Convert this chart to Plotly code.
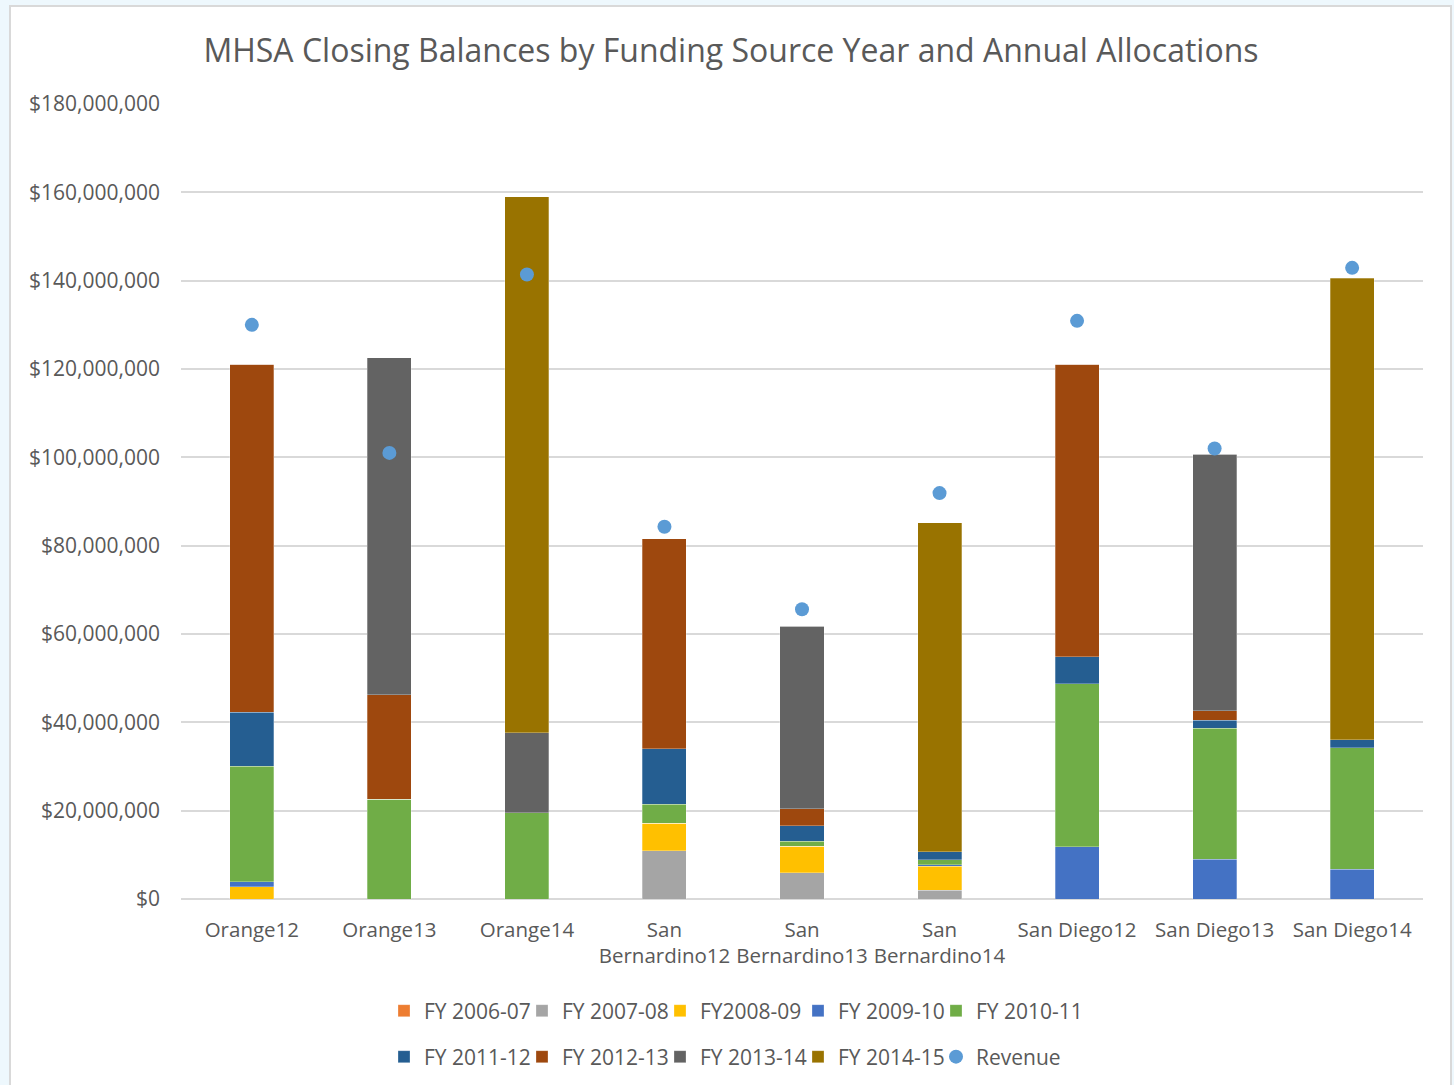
import plotly.graph_objects as go

categories = ["Orange12", "Orange13", "Orange14",
              "San<br>Bernardino12", "San<br>Bernardino13", "San<br>Bernardino14",
              "San Diego12", "San Diego13", "San Diego14"]

fy_2006_07 = [0, 0, 0, 0, 0, 0, 0, 0, 0]
fy_2007_08 = [0, 0, 0, 10.9e6, 6.0e6, 2.0e6, 0, 0, 0]
fy_2008_09 = [2.8e6, 0, 0, 6.3e6, 5.9e6, 5.4e6, 0, 0, 0]
fy_2009_10 = [1.1e6, 0, 0, 0, 0, 0.4e6, 11.8e6, 9.0e6, 6.7e6]
fy_2010_11 = [26.2e6, 22.6e6, 19.5e6, 4.3e6, 1.2e6, 1.1e6, 36.9e6, 29.7e6, 27.6e6]
fy_2011_12 = [12.2e6, 0, 0, 12.5e6, 3.5e6, 1.8e6, 6.1e6, 1.8e6, 1.8e6]
fy_2012_13 = [78.8e6, 23.7e6, 0, 47.6e6, 3.8e6, 0, 66.3e6, 2.1e6, 0]
fy_2013_14 = [0, 76.2e6, 18.1e6, 0, 41.4e6, 0, 0, 58.1e6, 0]
fy_2014_15 = [0, 0, 121.4e6, 0, 0, 74.5e6, 0, 0, 104.5e6]
revenue = [130.0e6, 101.0e6, 141.4e6, 84.3e6, 65.6e6, 91.9e6, 130.9e6, 102.0e6, 142.9e6]

series = [
    ("FY 2006-07", fy_2006_07, "#ED7D31"),
    ("FY 2007-08", fy_2007_08, "#A5A5A5"),
    ("FY2008-09", fy_2008_09, "#FFC000"),
    ("FY 2009-10", fy_2009_10, "#4472C4"),
    ("FY 2010-11", fy_2010_11, "#70AD47"),
    ("FY 2011-12", fy_2011_12, "#255E91"),
    ("FY 2012-13", fy_2012_13, "#9E480E"),
    ("FY 2013-14", fy_2013_14, "#636363"),
    ("FY 2014-15", fy_2014_15, "#997300"),
]

tick_vals = [0, 20e6, 40e6, 60e6, 80e6, 100e6, 120e6, 140e6, 160e6, 180e6]
tick_text = ["$0", "$20,000,000", "$40,000,000", "$60,000,000", "$80,000,000",
             "$100,000,000", "$120,000,000", "$140,000,000", "$160,000,000", "$180,000,000"]

FONT = "Open Sans, DejaVu Sans, sans-serif"
TXT = "#595959"

W, H = 1454, 1085
ML, MR, MT, MB = 181, 31, 104, 186
PW = W - ML - MR
PH = H - MT - MB
PB = H - MB  # plot bottom in px

fig = go.Figure()
for i, (name, vals, color) in enumerate(series):
    fig.add_trace(go.Bar(
        x=categories, y=vals, name=name,
        marker=dict(color=color, line=dict(color="rgba(255,255,255,0.35)", width=0.8)),
        legend="legend" if i < 5 else "legend2",
    ))
    if i == 4:
        # empty spacer entry so the last label of the row is not clipped
        fig.add_trace(go.Scatter(x=[None], y=[None], name=" ", mode="markers",
                                 marker=dict(color="rgba(0,0,0,0)"),
                                 legend="legend", hoverinfo="skip"))
fig.add_trace(go.Scatter(
    x=categories, y=revenue, name="Revenue", mode="markers",
    marker=dict(color="#5B9BD5", size=14, symbol="circle"),
    legend="legend2",
))
fig.add_trace(go.Scatter(x=[None], y=[None], name=" ", mode="markers",
                         marker=dict(color="rgba(0,0,0,0)"),
                         legend="legend2", hoverinfo="skip"))

legend_common = dict(
    orientation="h", xref="container", yref="container",
    xanchor="left", x=384 / W, yanchor="middle",
    font=dict(family=FONT, size=21, color=TXT),
    bgcolor="rgba(0,0,0,0)", itemwidth=30, traceorder="normal",
    tracegroupgap=0, entrywidth=93, entrywidthmode="pixels",
)

fig.update_layout(
    width=W, height=H,
    paper_bgcolor="#EEF8FD",
    plot_bgcolor="white",
    barmode="stack",
    bargap=0.68,
    margin=dict(l=ML, r=MR, t=MT, b=MB),
    title=dict(
        text="MHSA Closing Balances by Funding Source Year and Annual Allocations",
        x=731 / W, xref="container", xanchor="center", y=1 - 51 / H, yanchor="middle",
        font=dict(family=FONT, size=32, color=TXT),
    ),
    xaxis=dict(
        showgrid=False, showline=False, zeroline=False, ticks="",
        tickfont=dict(family=FONT, size=20.5, color=TXT),
        ticklabelstandoff=16,
    ),
    yaxis=dict(
        range=[0, 180e6], tickvals=tick_vals, ticktext=tick_text,
        showgrid=True, gridcolor="#D9D9D9", gridwidth=1.5,
        zeroline=True, zerolinecolor="#D9D9D9", zerolinewidth=1.5,
        showline=False, ticks="", ticklen=0,
        tickfont=dict(family=FONT, size=21, color=TXT),
        ticklabelstandoff=20,
    ),
    legend=dict(**legend_common, y=1 - 1011 / H),
    legend2=dict(**legend_common, y=1 - 1057 / H),
    shapes=[dict(
        type="rect", xref="paper", yref="paper", layer="below",
        x0=(10 - ML) / PW, x1=(1451 - ML) / PW,
        y0=(PB - 1095) / PH, y1=(PB - 6) / PH,
        fillcolor="white", line=dict(color="#D9D9D9", width=2),
    )],
)

fig.write_html("out.html", config={"displayModeBar": False},
               post_script="document.body.style.margin='0';")
